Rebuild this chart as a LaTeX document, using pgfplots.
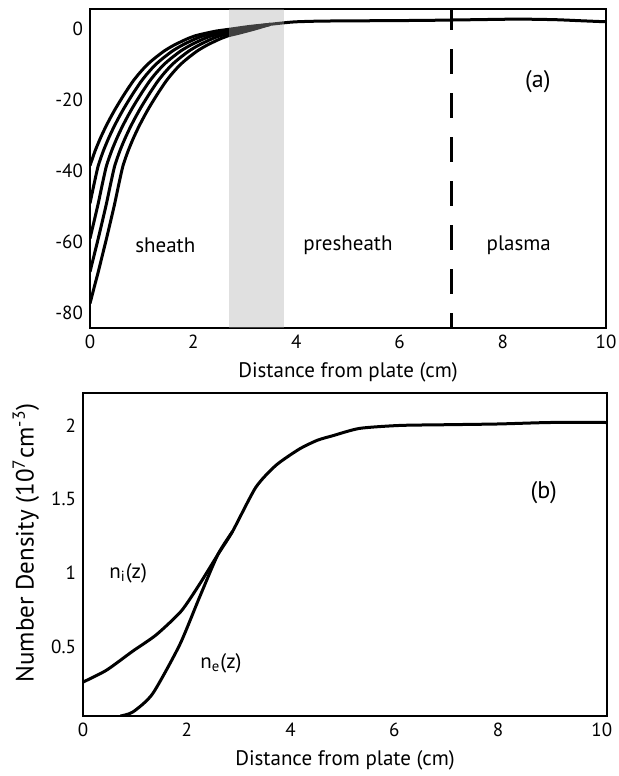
\documentclass[border=0pt]{standalone}
\usepackage{fontspec}
\setmainfont{PT Sans}
\usepackage{pgfplots}
\pgfplotsset{compat=1.18}

\pgfplotsset{
  panel/.style={
    scale only axis, anchor=north west,
    axis line style={line width=1.4pt}, major tick length=0pt,
    tick label style={font=\fontsize{9.5}{11}\selectfont},
    label style={font=\fontsize{10.5}{12}\selectfont},
    /pgf/number format/assume math mode=true,
    xtick={0,2,...,10},
  },
  curve/.style={black, line width=1.5pt, line join=round, smooth, tension=0.4},
}

\begin{document}
\begin{tikzpicture}
\path[use as bounding box] (0,0) rectangle (309pt,-388pt);

% (a) potential
\begin{axis}[panel, at={(45pt,-4.5pt)}, width=258pt, height=159.5pt,
  xmin=0, xmax=10, ymin=-84.2, ymax=5.6, ytick={-80,-60,-40,-20,0},
  xlabel={Distance from plate (cm)}]
\addplot[curve] coordinates {(0,-38.5) (0.1,-34.3) (0.2,-30.8) (0.3,-27.7) (0.4,-24.9) (0.5,-22.3) (0.6,-19.9) (0.7,-17.6) (0.83,-14.8) (0.95,-12.6) (1.1,-10.2) (1.25,-8.3) (1.44,-6.2) (1.6,-4.8) (1.75,-3.7) (1.9,-2.7) (2.05,-1.9) (2.25,-1.2) (2.45,-0.6) (2.7,-0.1) (3.1,0.7) (3.5,1.3)};
\addplot[curve] coordinates {(0,-49.1) (0.08,-43.6) (0.16,-38.5) (0.26,-34.3) (0.36,-30.8) (0.46,-27.7) (0.56,-24.9) (0.66,-22.3) (0.76,-19.9) (0.86,-17.6) (0.99,-14.8) (1.11,-12.6) (1.26,-10.2) (1.41,-8.3) (1.6,-6.2) (1.76,-4.8) (1.91,-3.7) (2.06,-2.7) (2.21,-1.9) (2.41,-1.2) (2.61,-0.6) (2.86,-0.1) (3.15,0.6) (3.5,1.3)};
\addplot[curve] coordinates {(0,-59.0) (0.08,-54.1) (0.16,-49.1) (0.24,-43.6) (0.32,-38.5) (0.42,-34.3) (0.52,-30.8) (0.62,-27.7) (0.72,-24.9) (0.82,-22.3) (0.92,-19.9) (1.02,-17.6) (1.15,-14.8) (1.27,-12.6) (1.42,-10.2) (1.57,-8.3) (1.76,-6.2) (1.92,-4.8) (2.07,-3.7) (2.22,-2.7) (2.37,-1.9) (2.57,-1.2) (2.77,-0.6) (3.0,0.0) (3.5,1.3)};
\addplot[curve] coordinates {(0,-68.4) (0.08,-63.7) (0.16,-59.0) (0.24,-54.1) (0.32,-49.1) (0.4,-43.6) (0.48,-38.5) (0.58,-34.3) (0.68,-30.8) (0.78,-27.7) (0.88,-24.9) (0.98,-22.3) (1.08,-19.9) (1.18,-17.6) (1.31,-14.8) (1.43,-12.6) (1.58,-10.2) (1.73,-8.3) (1.92,-6.2) (2.08,-4.8) (2.23,-3.7) (2.38,-2.7) (2.53,-1.9) (2.73,-1.2) (2.93,-0.6) (3.2,0.3) (3.5,1.3)};
\addplot[curve] coordinates {(0,-77.3) (0.08,-72.8) (0.16,-68.4) (0.24,-63.7) (0.32,-59.0) (0.4,-54.1) (0.48,-49.1) (0.56,-43.6) (0.64,-38.5) (0.74,-34.3) (0.84,-30.8) (0.94,-27.7) (1.04,-24.9) (1.14,-22.3) (1.24,-19.9) (1.34,-17.6) (1.47,-14.8) (1.59,-12.6) (1.74,-10.2) (1.89,-8.3) (2.08,-6.2) (2.24,-4.8) (2.39,-3.7) (2.54,-2.7) (2.69,-1.9) (2.89,-1.2) (3.2,0.0) (3.5,1.3)};
\addplot[curve] coordinates {(3.5,1.3) (3.75,1.7) (4.0,2.0) (4.5,2.2) (5.5,2.3) (6.5,2.4) (7.5,2.6) (8.3,2.75) (9.0,2.6) (9.5,2.3) (10,2.0)};
% shaded transition band
\addplot[draw=none, fill=black!33, fill opacity=0.37] coordinates {(2.7,-90) (3.75,-90) (3.75,10) (2.7,10)} -- cycle;
% sheath edge
\addplot[black, line width=1.5pt, dash pattern=on 12.5pt off 9.5pt, dash phase=2pt] coordinates {(7,5.6) (7,-84.2)};
\node[font=\fontsize{10.5}{12}\selectfont] at (axis cs:1.46,-60.8) {sheath};
\node[font=\fontsize{10.5}{12}\selectfont] at (axis cs:5.0,-60.8) {presheath};
\node[font=\fontsize{10.5}{12}\selectfont] at (axis cs:8.31,-60.8) {plasma};
\node[font=\fontsize{12}{14}\selectfont] at (axis cs:8.68,-14.8) {(a)};
\end{axis}

% (b) densities
\begin{axis}[panel, at={(41.5pt,-196.5pt)}, width=262pt, height=161.5pt,
  xmin=0, xmax=10.1, ymin=0.03, ymax=2.22, ytick={0.5,1,1.5,2},
  xlabel={Distance from plate (cm)},
  ylabel={Number Density (10\textsuperscript{7}cm\textsuperscript{-3})},
  ylabel style={at={(axis description cs:-0.109,0.536)}, anchor=center, font=\fontsize{12.5}{14}\selectfont}]
\addplot[curve] coordinates {(0,0.26) (0.45,0.34) (0.96,0.47) (1.41,0.58) (1.89,0.74) (2.24,0.92) (2.6,1.125) (2.88,1.28) (3.33,1.58) (3.72,1.73) (4.17,1.84) (4.52,1.9) (4.81,1.93) (5.33,1.98) (6.1,2.0) (7,2.005) (8.0,2.01) (9.0,2.02) (10.1,2.02)};
\addplot[curve] coordinates {(0.72,0.03) (0.96,0.057) (1.34,0.18) (1.86,0.51) (2.24,0.83) (2.6,1.125) (2.88,1.28)};
\node[font=\fontsize{10.5}{12}\selectfont] at (axis cs:0.87,1.0) {n\textsubscript{i}(z)};
\node[font=\fontsize{10.5}{12}\selectfont] at (axis cs:2.66,0.39) {n\textsubscript{e}(z)};
\node[font=\fontsize{12}{14}\selectfont] at (axis cs:8.88,1.545) {(b)};
\end{axis}
\end{tikzpicture}
\end{document}
